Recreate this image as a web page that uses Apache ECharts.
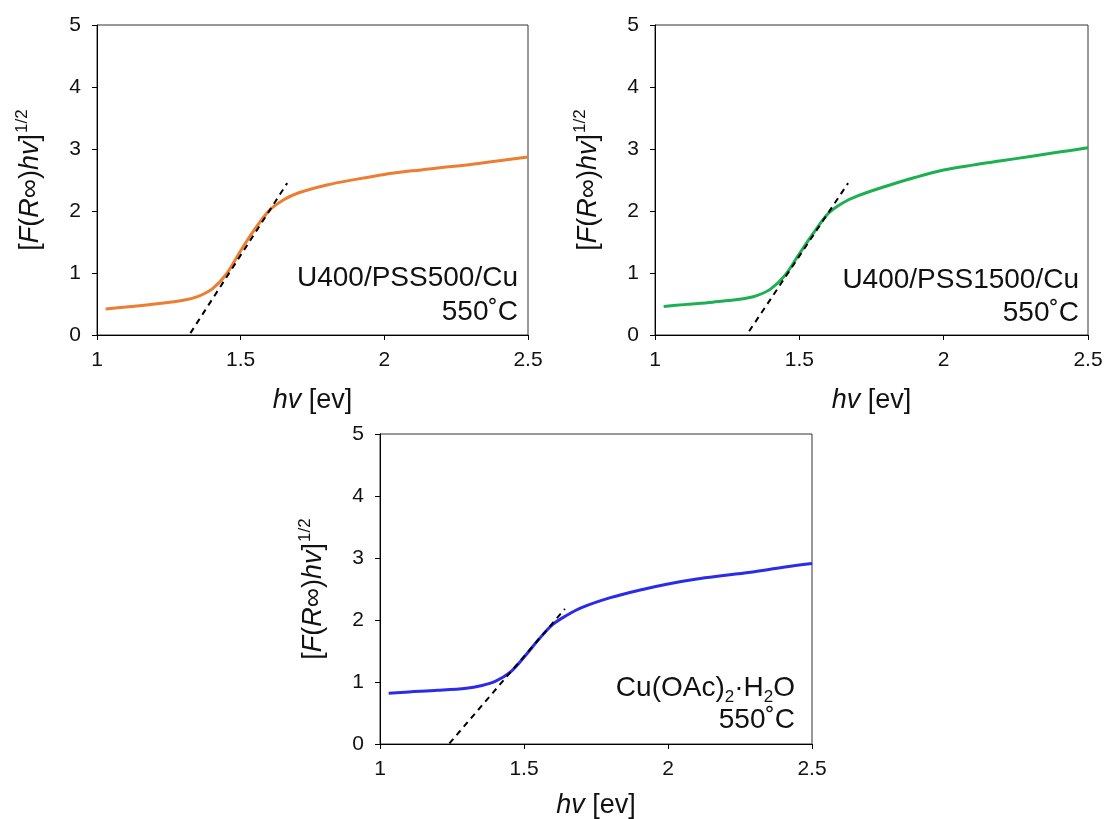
<!DOCTYPE html>
<html>
<head>
<meta charset="utf-8">
<script src="https://cdn.jsdelivr.net/npm/echarts@6/dist/echarts.min.js"></script>
<style>
html,body{margin:0;padding:0;background:#fff;}
#chart{width:1108px;height:819px;}
</style>
</head>
<body>
<div id="chart"></div>
<script>
// photon energy hv [eV] sample points
const hv = [1.03, 1.1, 1.2, 1.3, 1.35, 1.4, 1.45, 1.5, 1.55, 1.6, 1.65, 1.7, 1.8, 1.9, 2.0, 2.1, 2.2, 2.3, 2.4, 2.5];
// [F(R∞)hv]^1/2 values
const u400pss500 = [0.42, 0.45, 0.50, 0.56, 0.62, 0.74, 0.98, 1.36, 1.71, 2.01, 2.18, 2.29, 2.42, 2.51, 2.59, 2.65, 2.70, 2.75, 2.81, 2.87];
const u400pss1500 = [0.46, 0.49, 0.53, 0.58, 0.63, 0.74, 0.96, 1.31, 1.65, 1.96, 2.13, 2.24, 2.40, 2.54, 2.66, 2.74, 2.81, 2.88, 2.95, 3.02];
const cuOAc = [0.82, 0.84, 0.865, 0.90, 0.94, 1.01, 1.15, 1.40, 1.68, 1.93, 2.08, 2.20, 2.36, 2.48, 2.58, 2.66, 2.72, 2.78, 2.85, 2.91];
// tangent (Tauc) lines: x and y of end points
const tangentX500 = [1.325, 1.662];
const tangentY500 = [0.03, 2.45];
const tangentX1500 = [1.326, 1.669];
const tangentY1500 = [0.06, 2.45];
const tangentXCu = [1.241, 1.642];
const tangentYCu = [0.01, 2.18];
// axis ticks
const xTicks = [1, 1.5, 2, 2.5];
const yTicks = [0, 1, 2, 3, 4, 5];
// annotation labels
const sampleNames = ['U400/PSS500/Cu', 'U400/PSS1500/Cu', '{t|Cu(OAc)}{sub|2}{t|·H}{sub|2}{t|O}'];
const tempLabel = '550˚C';

const FONT = 'Liberation Sans';
const pairs = (xs, ys) => xs.map((x, i) => [x, ys[i]]);

const grids = [
  {left: 97, top: 25, width: 431, height: 310},
  {left: 655, top: 25, width: 433, height: 310},
  {left: 380, top: 434, width: 432, height: 310}
];
const xNameGaps = [52, 52, 48];

function xAx(i) {
  return {
    type: 'value', gridIndex: i,
    min: xTicks[0], max: xTicks[xTicks.length - 1], interval: xTicks[1] - xTicks[0],
    axisLine: {show: true, lineStyle: {color: '#000', width: 1}},
    axisTick: {show: true, inside: false, length: 5, lineStyle: {color: '#000'}},
    splitLine: {show: false},
    axisLabel: {fontFamily: FONT, fontSize: 21, color: '#111', margin: 15},
    name: '{i|hv} {n|[ev]}',
    nameLocation: 'middle', nameGap: xNameGaps[i],
    nameTextStyle: {
      fontFamily: FONT, fontSize: 27, color: '#111',
      rich: {
        i: {fontFamily: FONT, fontSize: 27, fontStyle: 'italic', color: '#111'},
        n: {fontFamily: FONT, fontSize: 27, color: '#111'}
      }
    }
  };
}
function yAx(i) {
  return {
    type: 'value', gridIndex: i,
    min: yTicks[0], max: yTicks[yTicks.length - 1], interval: yTicks[1] - yTicks[0],
    axisLine: {show: true, lineStyle: {color: '#000', width: 1}},
    axisTick: {show: true, inside: false, length: 5, lineStyle: {color: '#000'}},
    splitLine: {show: false},
    axisLabel: {fontFamily: FONT, fontSize: 21, color: '#111', margin: 16},
    name: '{n|[}{i|F}{n|(}{i|R}{n|∞)}{i|hv}{n|]}{s|1/2}',
    nameLocation: 'middle', nameRotate: 90, nameGap: 53,
    nameTextStyle: {
      fontFamily: FONT, fontSize: 27, color: '#111',
      rich: {
        n: {fontFamily: FONT, fontSize: 27, color: '#111', lineHeight: 30, verticalAlign: 'bottom'},
        i: {fontFamily: FONT, fontSize: 27, fontStyle: 'italic', color: '#111', lineHeight: 30, verticalAlign: 'bottom'},
        s: {fontFamily: FONT, fontSize: 17, color: '#111', lineHeight: 30, verticalAlign: 'top', padding: [0, 0, 0, 1]}
      }
    }
  };
}

function curve(i, xs, ys, color) {
  return {
    type: 'line', xAxisIndex: i, yAxisIndex: i,
    data: pairs(xs, ys), smooth: 0.35, showSymbol: false, symbol: 'none',
    lineStyle: {color: color, width: 3}, z: 3
  };
}
function tangent(i, xs, ys) {
  return {
    type: 'line', xAxisIndex: i, yAxisIndex: i,
    data: pairs(xs, ys), showSymbol: false, symbol: 'none',
    lineStyle: {color: '#000', width: 2, type: [6, 5]}, z: 4
  };
}

const annRich = {
  t: {fontFamily: FONT, fontSize: 28, color: '#111', lineHeight: 30, verticalAlign: 'top'},
  sub: {fontFamily: FONT, fontSize: 17, color: '#111', lineHeight: 17, verticalAlign: 'top', padding: [15, 0, 0, 0]}
};

function label(x, y, text) {
  return {
    type: 'text', x: x, y: y, z: 10,
    style: {text: text, fontFamily: FONT, fontSize: 28, fill: '#111', align: 'right', verticalAlign: 'middle', rich: annRich}
  };
}

const option = {
  backgroundColor: '#fff',
  animation: false,
  grid: grids.map(g => Object.assign({show: true, borderColor: '#333', borderWidth: 1, backgroundColor: 'transparent', containLabel: false, outerBoundsMode: 'none'}, g)),
  xAxis: [xAx(0), xAx(1), xAx(2)],
  yAxis: [yAx(0), yAx(1), yAx(2)],
  series: [
    curve(0, hv, u400pss500, '#ED7D31'),
    tangent(0, tangentX500, tangentY500),
    curve(1, hv, u400pss1500, '#1DAF52'),
    tangent(1, tangentX1500, tangentY1500),
    curve(2, hv, cuOAc, '#2B2BEA'),
    tangent(2, tangentXCu, tangentYCu)
  ],
  graphic: [
    label(518, 278, sampleNames[0]),
    label(518, 312, tempLabel),
    label(1079, 280, sampleNames[1]),
    label(1079, 313, tempLabel),
    label(795, 689, sampleNames[2]),
    label(795, 720, tempLabel)
  ]
};

const chart = echarts.init(document.getElementById('chart'), null, {renderer: 'canvas'});
chart.setOption(option);
</script>
</body>
</html>
